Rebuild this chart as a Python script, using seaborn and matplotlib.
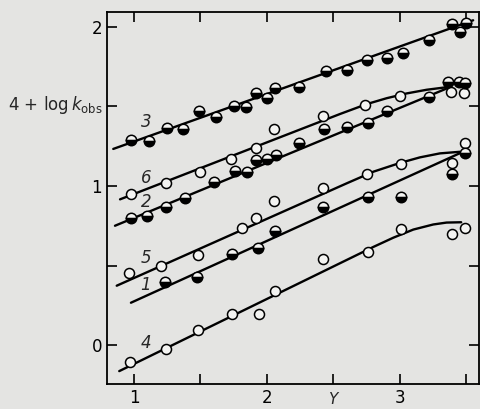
import numpy as np
import pandas as pd
import matplotlib
matplotlib.use('Agg')
import matplotlib.pyplot as plt
import seaborn as sns

s3_x = [0.98, 1.11, 1.25, 1.37, 1.49, 1.62, 1.75, 1.84, 1.92, 2.00, 2.06, 2.24, 2.44, 2.60, 2.75, 2.90, 3.02, 3.22, 3.39, 3.45, 3.50]
s3_y = [1.290, 1.285, 1.363, 1.358, 1.472, 1.432, 1.505, 1.499, 1.587, 1.552, 1.618, 1.625, 1.725, 1.730, 1.792, 1.803, 1.835, 1.918, 2.019, 1.970, 2.027]

s6_x = [0.98, 1.24, 1.50, 1.73, 1.92, 2.05, 2.42, 2.74, 3.00, 3.38, 3.48]
s6_y = [0.948, 1.017, 1.090, 1.170, 1.237, 1.358, 1.440, 1.508, 1.566, 1.593, 1.583]

s2_x = [0.98, 1.10, 1.24, 1.38, 1.60, 1.76, 1.85, 1.92, 2.00, 2.07, 2.24, 2.43, 2.60, 2.76, 2.90, 3.22, 3.36, 3.44, 3.49]
s2_y = [0.801, 0.813, 0.870, 0.926, 1.027, 1.096, 1.086, 1.164, 1.168, 1.195, 1.269, 1.357, 1.373, 1.394, 1.472, 1.558, 1.656, 1.652, 1.650]

s5_x = [0.96, 1.20, 1.48, 1.81, 1.92, 2.05, 2.42, 2.75, 3.01, 3.39, 3.49]
s5_y = [0.451, 0.499, 0.566, 0.734, 0.797, 0.906, 0.987, 1.074, 1.136, 1.147, 1.269]

s1_x = [1.23, 1.47, 1.74, 1.93, 2.06, 2.42, 2.76, 3.01, 3.39, 3.49]
s1_y = [0.398, 0.426, 0.570, 0.608, 0.717, 0.868, 0.929, 0.929, 1.074, 1.206]

s4_x = [0.97, 1.24, 1.48, 1.74, 1.94, 2.06, 2.42, 2.76, 3.01, 3.39, 3.49]
s4_y = [-0.105, -0.027, 0.094, 0.193, 0.195, 0.342, 0.539, 0.587, 0.730, 0.698, 0.734]

# fitted curves (knots)
c3_x = [0.844, 3.55]
c3_y = [1.233, 2.042]
c6_x = [0.895, 2.55, 2.75, 2.90, 3.05, 3.20, 3.35]
c6_y = [0.916, 1.453, 1.515, 1.552, 1.582, 1.605, 1.621]
c2_x = [0.857, 3.36]
c2_y = [0.750, 1.616]
c5_x = [0.870, 2.60, 2.80, 3.00, 3.15, 3.30, 3.45]
c5_y = [0.373, 1.017, 1.090, 1.145, 1.180, 1.205, 1.215]
c1_x = [0.977, 3.46]
c1_y = [0.266, 1.210]
c4_x = [0.889, 2.80, 2.95, 3.10, 3.25, 3.35, 3.46]
c4_y = [-0.164, 0.617, 0.675, 0.726, 0.758, 0.770, 0.772]

labels = ['3', '6', '2', '5', '1', '4']
label_y = [1.404, 1.048, 0.901, 0.545, 0.377, 0.010]

bg = '#e4e4e2'
sns.set_style('ticks')
plt.rcParams['font.family'] = ['DejaVu Sans']

fig = plt.figure(figsize=(4.8, 4.09), dpi=100, facecolor=bg)
ax = fig.add_axes([107 / 480, 25 / 409, 372 / 480, 372 / 409])
ax.set_facecolor(bg)

curves = [(c3_x, c3_y), (c6_x, c6_y), (c2_x, c2_y), (c5_x, c5_y), (c1_x, c1_y), (c4_x, c4_y)]
for cx, cy in curves:
    sns.lineplot(x=cx, y=cy, ax=ax, color='black', linewidth=1.7, sort=False, estimator=None, zorder=2)

# open circles
for sx, sy in [(s6_x, s6_y), (s5_x, s5_y), (s4_x, s4_y)]:
    sns.scatterplot(x=sx, y=sy, ax=ax, s=52, facecolor='#f4f4f2', edgecolor='black',
                    linewidth=1.1, zorder=3)

# half filled circles (lower half black)
for sx, sy in [(s3_x, s3_y), (s2_x, s2_y), (s1_x, s1_y)]:
    ax.plot(sx, sy, linestyle='none', marker='o', markersize=7.5, fillstyle='bottom',
            markerfacecolor='black', markerfacecoloralt='#f4f4f2',
            markeredgecolor='black', markeredgewidth=1.1, zorder=3)

for lab, ly in zip(labels, label_y):
    ax.text(1.09, ly, lab, fontsize=12, style='italic', ha='center', va='center')

ax.set_xlim(0.797, 3.594)
ax.set_ylim(-0.245, 2.094)
ax.set_xticks([1, 2, 3])
ax.set_xticks([1.5, 2.5, 3.5], minor=True)
ax.set_yticks([0, 1, 2])
ax.set_yticks([0.5, 1.5], minor=True)
ax.tick_params(which='both', direction='in', length=7, width=1.2, top=True, right=True,
               labelsize=12, colors='black')
for sp in ax.spines.values():
    sp.set_linewidth(1.3)
    sp.set_color('black')

fig.text(8 / 480, 1 - 105 / 409, r'4 + log$\,k_{\mathrm{obs}}$', fontsize=12, ha='left', va='center')
fig.text(333 / 480, 1 - 400 / 409, 'Y', fontsize=11, style='italic', ha='center', va='center')

fig.savefig('out.png', dpi=100, facecolor=bg)
